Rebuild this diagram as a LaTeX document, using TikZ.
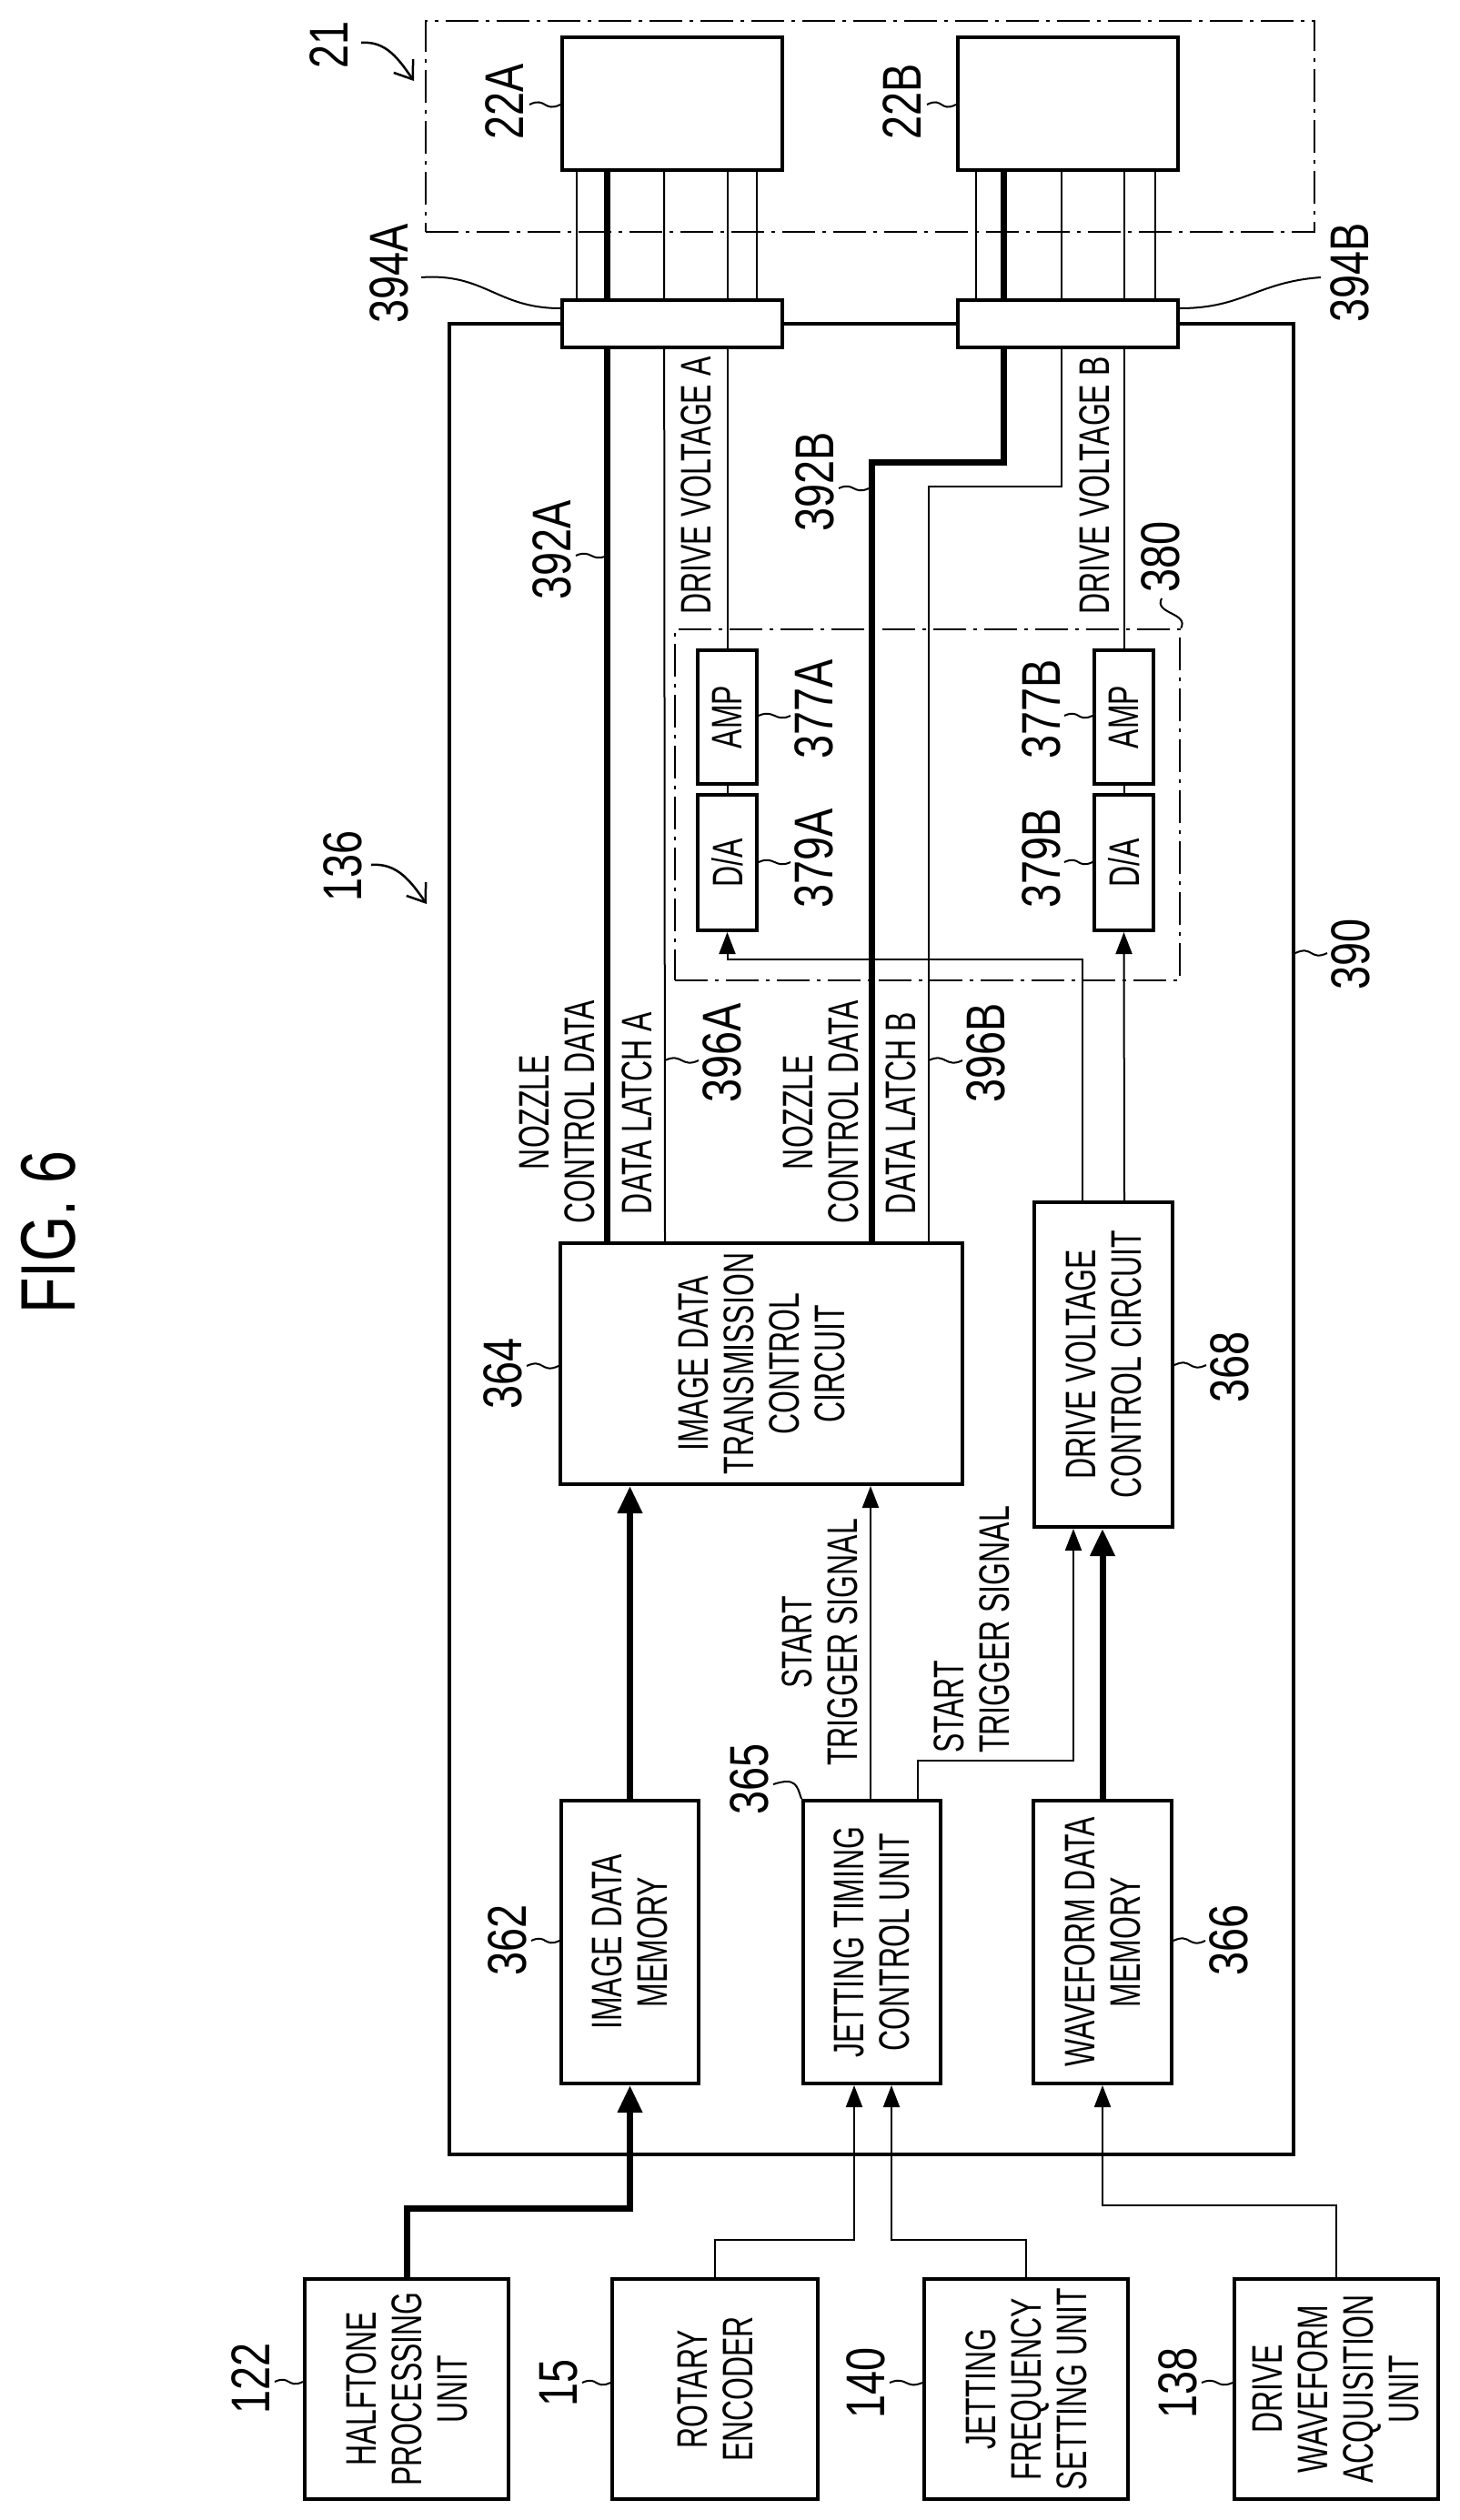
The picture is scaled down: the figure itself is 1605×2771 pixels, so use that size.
\documentclass[tikz,border=0pt]{standalone}
\usepackage{fontspec}
\setmainfont{Liberation Sans}
\newfontfamily\labf[FakeStretch=0.68]{Liberation Sans}
\newfontfamily\numf[FakeStretch=0.78]{Liberation Sans}
\newfontfamily\figf[FakeStretch=0.76]{Liberation Sans}
\usetikzlibrary{arrows.meta,calc}
\begin{document}
\begin{tikzpicture}[x=1pt,y=-1pt,
  box/.style={draw,line width=4pt,fill=white,inner sep=0pt},
  dd/.style={draw,line width=2.5pt,dash pattern=on 36pt off 8pt on 4pt off 8pt},
  txt/.style={rotate=90,font=\labf\fontsize{47}{50}\selectfont,align=center,inner sep=0pt},
  num/.style={rotate=90,font=\numf\fontsize{60}{60}\selectfont,inner sep=0pt},
  thn/.style={line width=2pt},
  thk/.style={line width=7pt},
  ld/.style={line width=2pt},
  ta/.style={-{Triangle[length=24pt,width=18pt]}},
  tka/.style={-{Triangle[length=30pt,width=26pt]}},
  oa/.style={line width=2.5pt,-{Straight Barb[length=18pt,width=26pt]}}]
\useasboundingbox (0,0) rectangle (1605,2771);
% --- regions and boxes
\node[dd,minimum width=977pt,minimum height=232pt,inner sep=0pt] (r21) at (956.5,139) {};
\node[draw,line width=4pt,minimum width=928pt,minimum height=2013pt,inner sep=0pt] (r390) at (958,1362.5) {};
\node[dd,minimum width=555pt,minimum height=386pt,inner sep=0pt] (r380) at (1019.5,885) {};
\node[box,minimum width=242pt,minimum height=146pt] (b22A) at (739,114) {};
\node[box,minimum width=242pt,minimum height=146pt] (b22B) at (1174,114) {};
\node[box,minimum width=65pt,minimum height=147pt] (ampA) at (799.5,788.5) {};
\node[box,minimum width=65pt,minimum height=149pt] (daA) at (799.5,948.5) {};
\node[box,minimum width=65pt,minimum height=147pt] (ampB) at (1235.5,788.5) {};
\node[box,minimum width=65pt,minimum height=149pt] (daB) at (1235.5,948.5) {};
\node[box,minimum width=442pt,minimum height=265pt] (idtc) at (837,1499.5) {};
\node[box,minimum width=152pt,minimum height=357pt] (dvcc) at (1213,1500.5) {};
\node[box,minimum width=151pt,minimum height=311pt] (b362) at (692.5,2135.5) {};
\node[box,minimum width=151pt,minimum height=311pt] (b365) at (958.5,2135.5) {};
\node[box,minimum width=152pt,minimum height=311pt] (b366) at (1212,2135.5) {};
\node[box,minimum width=224pt,minimum height=242pt] (b122) at (447,2627) {};
\node[box,minimum width=226pt,minimum height=242pt] (b15) at (786,2627) {};
\node[box,minimum width=224pt,minimum height=242pt] (b140) at (1128,2627) {};
\node[box,minimum width=224pt,minimum height=242pt] (b138) at (1469,2627) {};
% --- lines to heads
\draw[thk] ([xshift=-170pt]idtc.north) -- ([xshift=-72pt]b22A.south);
\draw[thn] ([xshift=-106pt]idtc.north) -- ([xshift=-9pt]b22A.south);
\draw[thn] (ampA.north) -- (ampA.north |- b22A.south);
\draw[thn] ([xshift=-105pt]b22A.south) -- ++(0,150);
\draw[thn] ([xshift=93pt]b22A.south) -- ++(0,150);
\draw[thk] ([xshift=121pt]idtc.north) |- (1103,508) -- ([xshift=-71pt]b22B.south);
\draw[thn] ([xshift=184pt]idtc.north) |- (1167,535) -- ([xshift=-7pt]b22B.south);
\draw[thn] (ampB.north) -- (ampB.north |- b22B.south);
\draw[thn] ([xshift=-101pt]b22B.south) -- ++(0,150);
\draw[thn] ([xshift=96pt]b22B.south) -- ++(0,150);
\node[box,minimum width=242pt,minimum height=52pt] (c394A) at (739,356) {};
\node[box,minimum width=242pt,minimum height=52pt] (c394B) at (1174,356) {};
\draw[thn] (daA.north) -- (ampA.south);
\draw[thn] (daB.north) -- (ampB.south);
% --- signal connectors
\draw[thn,ta] ([xshift=-23pt]dvcc.north) |- (1000,1055) -| (daA.south);
\draw[thn,ta] ([xshift=23pt]dvcc.north) -- (daB.south);
\draw[thk,tka] (b362.north) -- (b362.north |- idtc.south);
\draw[thn,ta] ([xshift=-1.5pt]b365.north) -- ([xshift=-1.5pt]b365.north |- idtc.south);
\draw[thn,ta] ([xshift=50.5pt]b365.north) -- ++(0,-42) -| ([xshift=-33pt]dvcc.south);
\draw[thk,tka] (b366.north) -- (b366.north |- dvcc.south);
\draw[thk,tka] (b122.north) -- ++(0,-76) -| (b362.south);
\draw[thn,ta] (b15.north) -- ++(0,-41) -| ([xshift=-19.5pt]b365.south);
\draw[thn,ta] (b140.north) -- ++(0,-41) -| ([xshift=21.5pt]b365.south);
\draw[thn,ta] (b138.north) -- ++(0,-79) -| (b366.south);
% --- box texts
\node[txt] (tampA) at (ampA) {AMP};
\node[txt] (tdaA) at (daA) {D/A};
\node[txt] (tampB) at (ampB) {AMP};
\node[txt] (tdaB) at (daB) {D/A};
\node[txt] (tidtc) at (idtc) {IMAGE DATA\\TRANSMISSION\\CONTROL\\CIRCUIT};
\node[txt] (tdvcc) at (dvcc) {DRIVE VOLTAGE\\CONTROL CIRCUIT};
\node[txt] (t362) at (b362) {IMAGE DATA\\MEMORY};
\node[txt] (t365) at (b365) {JETTING TIMING\\CONTROL UNIT};
\node[txt] (t366) at (b366) {WAVEFORM DATA\\MEMORY};
\node[txt] (t122) at (b122) {HALFTONE\\PROCESSING\\UNIT};
\node[txt] (t15) at (b15) {ROTARY\\ENCODER};
\node[txt] (t140) at (b140) {JETTING\\FREQUENCY\\SETTING UNIT};
\node[txt] (t138) at (b138) {DRIVE\\WAVEFORM\\ACQUISITION\\UNIT};
% --- signal texts
\node[txt] (dvA) at (765,534) {DRIVE VOLTAGE A};
\node[txt] (dvB) at (1203,534) {DRIVE VOLTAGE B};
\node[txt] (ncdA) at (612,1223) {NOZZLE\\CONTROL DATA};
\node[txt] (dlA) at (700,1224) {DATA LATCH A};
\node[txt] (ncdB) at (902,1223) {NOZZLE\\CONTROL DATA};
\node[txt] (dlB) at (990,1224) {DATA LATCH B};
\node[txt] (st1) at (901,1806) {START\\TRIGGER SIGNAL};
\node[txt,align=left] (st2) at (1068,1792) {START\\TRIGGER SIGNAL};
% --- reference numbers
\node[rotate=90,font=\figf\fontsize{85}{85}\selectfont,inner sep=0pt] (fig) at (53,1355) {FIG. 6};
\node[num] (n21) at (362,49) {21};
\node[num] (n22A) at (555,112) {22A};
\node[num] (n22B) at (992,112) {22B};
\node[num] (n394A) at (428,301) {394A};
\node[num] (n394B) at (1484,300) {394B};
\node[num] (n392A) at (607,605) {392A};
\node[num] (n392B) at (896,530) {392B};
\node[num] (n380) at (1276,612) {380};
\node[num] (n377A) at (895,780) {377A};
\node[num] (n379A) at (895,944) {379A};
\node[num] (n377B) at (1145,780) {377B};
\node[num] (n379B) at (1145,944) {379B};
\node[num] (n396A) at (794,1158) {396A};
\node[num] (n396B) at (1084,1158) {396B};
\node[num] (n364) at (553,1510) {364};
\node[num] (n368) at (1352,1503) {368};
\node[num] (n390) at (1485,1049) {390};
\node[num] (n136) at (377,952) {136};
\node[num] (n365) at (824,1956) {365};
\node[num] (n362) at (558,2133) {362};
\node[num] (n366) at (1351,2133) {366};
\node[num] (n122) at (276,2615) {122};
\node[num] (n15) at (614,2620) {15};
\node[num] (n140) at (952,2620) {140};
\node[num] (n138) at (1295,2620) {138};
% --- leaders
\draw[oa] (397,47) to[out=5,in=125] (455,89);
\draw[oa] (408,951) to[out=5,in=125] (469,994);
\draw[ld] (582,115) .. controls +(18,-9) and +(-18,9) .. (b22A.west |- 0,115);
\draw[ld] (1019,115) .. controls +(18,-9) and +(-18,9) .. (b22B.west |- 0,115);
\draw[ld] (463,305) .. controls +(70,-5) and +(-70,0) .. (c394A.west |- 0,339);
\draw[ld] (c394B.east |- 0,339) .. controls +(70,0) and +(-70,5) .. (1452,305);
\draw[ld] (633,611) .. controls +(17,-8) and +(-17,8) .. (667,611);
\draw[ld] (922,537) .. controls +(17,-8) and +(-17,8) .. (955,537);
\draw[ld] (1277,658) .. controls +(-9,17) and +(9,-17) .. (r380.north east);
\draw[ld] (ampA.east |- 0,787) .. controls +(17,-8) and +(-17,8) .. (869,787);
\draw[ld] (daA.east |- 0,948) .. controls +(17,-8) and +(-17,8) .. (869,948);
\draw[ld] (1170,787) .. controls +(17,-8) and +(-17,8) .. (ampB.west |- 0,787);
\draw[ld] (1170,948) .. controls +(17,-8) and +(-17,8) .. (daB.west |- 0,948);
\draw[ld] (731,1166) .. controls +(19,-9) and +(-19,9) .. (768,1166);
\draw[ld] (1021,1166) .. controls +(19,-9) and +(-19,9) .. (1058,1166);
\draw[ld] (579,1502) .. controls +(19,-9) and +(-19,9) .. (idtc.west |- 0,1502);
\draw[ld] (dvcc.east |- 0,1501) .. controls +(19,-9) and +(-19,9) .. (1326,1501);
\draw[ld] (r390.east |- 0,1048) .. controls +(19,-9) and +(-19,9) .. (1459,1048);
\draw[ld] (850,1962) .. controls +(25,-8) and +(-5,-15) .. (b365.north west);
\draw[ld] (584,2134) .. controls +(17,-8) and +(-17,8) .. (b362.west |- 0,2134);
\draw[ld] (b366.east |- 0,2134) .. controls +(19,-9) and +(-19,9) .. (1325,2134);
\draw[ld] (302,2619) .. controls +(17,-8) and +(-17,8) .. (b122.west |- 0,2619);
\draw[ld] (640,2620) .. controls +(17,-8) and +(-17,8) .. (b15.west |- 0,2620);
\draw[ld] (978,2620) .. controls +(19,-8) and +(-19,8) .. (b140.west |- 0,2620);
\draw[ld] (1321,2620) .. controls +(18,-8) and +(-18,8) .. (b138.west |- 0,2620);
\end{tikzpicture}
\end{document}
